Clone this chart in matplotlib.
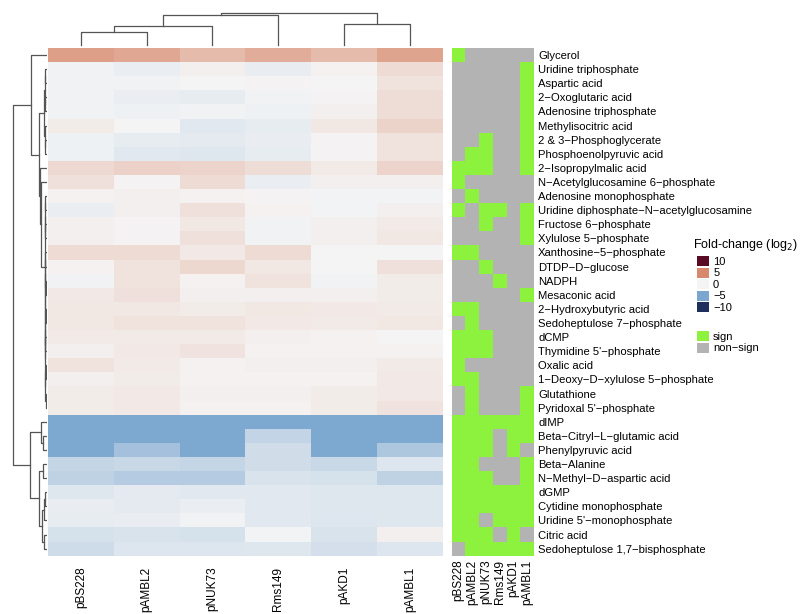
import matplotlib
matplotlib.use("Agg")
import matplotlib.pyplot as plt
import numpy as np
from matplotlib.colors import LinearSegmentedColormap, ListedColormap, Normalize
from matplotlib.patches import Patch

plt.rcParams["font.family"] = ["Liberation Sans", "DejaVu Sans"]

strains = ["pBS228", "pAMBL2", "pNUK73", "Rms149", "pAKD1", "pAMBL1"]

metabolites = [
    "Glycerol", "Uridine triphosphate", "Aspartic acid", "2−Oxoglutaric acid",
    "Adenosine triphosphate", "Methylisocitric acid", "2 & 3−Phosphoglycerate",
    "Phosphoenolpyruvic acid", "2−Isopropylmalic acid",
    "N−Acetylglucosamine 6−phosphate", "Adenosine monophosphate",
    "Uridine diphosphate−N−acetylglucosamine", "Fructose 6−phosphate",
    "Xylulose 5−phosphate", "Xanthosine−5−phosphate", "DTDP−D−glucose", "NADPH",
    "Mesaconic acid", "2−Hydroxybutyric acid", "Sedoheptulose 7−phosphate", "dCMP",
    "Thymidine 5'−phosphate", "Oxalic acid", "1−Deoxy−D−xylulose 5−phosphate",
    "Glutathione", "Pyridoxal 5'−phosphate", "dIMP", "Beta−Citryl−L−glutamic acid",
    "Phenylpyruvic acid", "Beta−Alanine", "N−Methyl−D−aspartic acid", "dGMP",
    "Cytidine monophosphate", "Uridine 5'−monophosphate", "Citric acid",
    "Sedoheptulose 1,7−bisphosphate",
]

# log2 fold-change, columns in strain order
fold_change = np.array([
    [4.0, 3.6, 2.7, 3.4, 2.7, 3.8],
    [-0.2, -0.4, 0.3, -0.5, 0.2, 1.2],
    [-0.2, -0.2, 0.0, 0.1, 0.05, 0.9],
    [-0.2, -0.4, -0.6, -0.2, 0.1, 1.1],
    [-0.2, -0.3, -0.2, -0.3, 0.3, 1.1],
    [0.4, 0.0, -0.8, -0.6, 0.7, 1.6],
    [-0.3, -0.6, -0.7, -0.5, 0.1, 0.9],
    [-0.3, -0.8, -0.9, -0.6, 0.1, 0.9],
    [1.3, 1.7, 1.5, 1.1, 0.5, 1.5],
    [1.0, 0.1, 1.2, -0.4, 0.3, 0.3],
    [0.2, 0.3, 0.2, 0.1, -0.1, -0.1],
    [-0.4, 0.3, 1.0, 0.2, -0.1, 0.3],
    [0.3, 0.1, 0.7, -0.2, 0.3, 0.5],
    [0.3, 0.1, 1.0, -0.2, 0.3, 0.7],
    [1.2, 1.2, 0.6, 1.2, 0.0, 0.0],
    [0.2, 0.9, 1.4, 0.7, 0.0, 1.0],
    [-0.2, 0.9, 0.2, 0.9, -0.2, 0.4],
    [0.6, 1.0, 0.3, 0.3, 0.3, 0.4],
    [0.7, 0.7, 0.4, 0.7, 0.6, 0.5],
    [0.7, 0.9, 0.9, 0.6, 0.5, 0.7],
    [0.5, 0.5, 0.5, 0.3, 0.2, 0.05],
    [0.3, 0.6, 0.8, 0.2, 0.2, 0.2],
    [0.9, 0.5, 0.2, 0.3, 0.3, 0.5],
    [0.3, 0.4, 0.2, 0.2, 0.2, 0.6],
    [0.4, 0.6, 0.3, 0.3, 0.4, 0.6],
    [0.4, 0.6, 0.2, 0.2, 0.4, 0.8],
    [-4.9, -4.9, -4.9, -4.9, -4.9, -4.9],
    [-4.9, -4.9, -4.9, -2.1, -4.9, -4.9],
    [-4.9, -3.3, -4.9, -1.5, -4.9, -2.9],
    [-2.0, -1.8, -2.0, -1.5, -1.8, -1.0],
    [-2.2, -2.6, -2.6, -1.1, -1.3, -2.2],
    [-0.9, -0.7, -0.8, -0.8, -0.9, -0.9],
    [-0.5, -0.7, -0.4, -0.8, -0.9, -0.9],
    [-0.6, -0.5, -0.2, -0.8, -1.0, -0.9],
    [-1.3, -1.1, -1.3, -0.1, -1.1, 0.3],
    [-1.6, -1.0, -1.0, -0.9, -1.4, -1.0],
])

# 1 = significant, 0 = not significant
significant = np.array([
    [1, 0, 0, 0, 0, 0],
    [0, 0, 0, 0, 0, 1],
    [0, 0, 0, 0, 0, 1],
    [0, 0, 0, 0, 0, 1],
    [0, 0, 0, 0, 0, 1],
    [0, 0, 0, 0, 0, 1],
    [0, 0, 1, 0, 0, 1],
    [0, 1, 1, 0, 0, 1],
    [1, 1, 1, 0, 0, 1],
    [1, 0, 0, 0, 0, 0],
    [0, 1, 0, 0, 0, 0],
    [1, 0, 1, 1, 0, 1],
    [0, 0, 1, 0, 0, 1],
    [0, 0, 0, 0, 0, 1],
    [1, 1, 0, 0, 0, 0],
    [0, 0, 1, 0, 0, 0],
    [0, 0, 0, 1, 0, 0],
    [0, 0, 0, 0, 0, 1],
    [1, 1, 0, 0, 0, 0],
    [0, 1, 0, 0, 0, 0],
    [1, 1, 1, 0, 0, 0],
    [1, 1, 1, 0, 0, 0],
    [1, 0, 0, 0, 0, 0],
    [1, 1, 0, 0, 0, 0],
    [0, 1, 0, 0, 0, 1],
    [0, 1, 0, 0, 0, 1],
    [1, 1, 1, 1, 1, 1],
    [1, 1, 1, 0, 1, 1],
    [1, 1, 1, 0, 1, 0],
    [1, 1, 0, 0, 0, 1],
    [1, 1, 1, 0, 0, 1],
    [1, 1, 1, 1, 1, 1],
    [1, 1, 1, 1, 1, 1],
    [1, 1, 0, 1, 1, 1],
    [1, 1, 1, 0, 1, 0],
    [0, 1, 1, 1, 1, 1],
])

# dendrograms as (height, left, right); ints are leaf indices
col_tree = (32, (29.7, (18.7, (13.3, 0, 1), 2), 3), (21.3, 4, 5))
row_tree = (33,
            (15.3, 0,
             (7.5,
              (2.5, (1.5, (0.8, 1, 2), (1.0, 3, 4)), (1.2, 5, (0.6, 6, 7))),
              (6.5, 8,
               (5.5, 9,
                (1.5, (1.2, (0.8, 10, 11), (0.6, 12, 13)),
                 (1.3, (1.0, (0.7, 14, 15), (0.5, 16, 17)),
                  (1.1, (0.8, (0.5, 18, 19), (0.6, 20, 21)),
                   (0.9, (0.5, 22, 23), (0.4, 24, 25))))))))),
            (16, (5.5, 26, (3, 27, 28)),
             (7.5, (3, 29, 30), (4, (2, (1, 31, 32), 33), (2.5, 34, 35)))))

cmap = LinearSegmentedColormap.from_list(
    "fc", [(0.0, "#1e2f5e"), (0.25, "#7ba6cf"), (0.5, "#f5f5f5"),
           (0.75, "#d88a6e"), (1.0, "#5a0a24")])
norm = Normalize(-10, 10)
sig_green, sig_grey = "#8cf23d", "#b3b3b3"
line_col = "#555555"

W, H = 800, 614
fig = plt.figure(figsize=(8, 6.14), dpi=100)


def frac(x0, y0, x1, y1):
    return [x0 / W, 1 - y1 / H, (x1 - x0) / W, (y1 - y0) / H]


hm_top, hm_bot = 48, 555.7
ax_hm = fig.add_axes(frac(48, hm_top, 442.7, hm_bot))
ax_sig = fig.add_axes(frac(451.7, hm_top, 534, hm_bot))
ax_top = fig.add_axes(frac(48, 5, 442.7, 47))
ax_left = fig.add_axes(frac(5, hm_top, 47, hm_bot))

n_rows, n_cols = fold_change.shape
ax_hm.pcolormesh(fold_change, cmap=cmap, norm=norm)
ax_hm.set_xlim(0, n_cols)
ax_hm.set_ylim(n_rows, 0)
ax_hm.set_xticks(np.arange(n_cols) + 0.5)
ax_hm.set_xticklabels(strains, rotation=90, fontsize=8.5)
ax_hm.set_yticks([])
ax_hm.tick_params(axis="x", length=0, pad=8)

ax_sig.pcolormesh(significant, cmap=ListedColormap([sig_grey, sig_green]),
                  vmin=0, vmax=1)
ax_sig.set_xlim(0, n_cols)
ax_sig.set_ylim(n_rows, 0)
ax_sig.set_xticks(np.arange(n_cols) + 0.5)
ax_sig.set_xticklabels(strains, rotation=90, fontsize=8.5)
ax_sig.set_yticks(np.arange(n_rows) + 0.5)
ax_sig.set_yticklabels(metabolites, fontsize=8.1)
ax_sig.yaxis.tick_right()
ax_sig.tick_params(axis="both", length=0, pad=3)

for a in (ax_hm, ax_sig, ax_top, ax_left):
    for s in a.spines.values():
        s.set_visible(False)


def draw_tree(ax, node, vertical):
    if isinstance(node, int):
        return node + 0.5, 0.0
    h, left, right = node
    pl, hl = draw_tree(ax, left, vertical)
    pr, hr = draw_tree(ax, right, vertical)
    pos, hts = [pl, pl, pr, pr], [hl, h, h, hr]
    if vertical:
        ax.plot(pos, hts, color=line_col, lw=0.9)
    else:
        ax.plot(hts, pos, color=line_col, lw=0.9)
    return (pl + pr) / 2, h


draw_tree(ax_top, col_tree, True)
ax_top.set_xlim(0, n_cols)
ax_top.set_ylim(-2, 40)
ax_top.axis("off")

draw_tree(ax_left, row_tree, False)
ax_left.set_ylim(n_rows, 0)
ax_left.set_xlim(41, -1)
ax_left.axis("off")

# legends
fig.text(693 / W, 1 - 245 / H, "Fold-change (log$_2$)", fontsize=9, va="center")
fc_vals = [10, 5, 0, -5, -10]
fc_handles = [Patch(facecolor=cmap(norm(v)), edgecolor="none") for v in fc_vals]
legend_kw = dict(loc="upper left", frameon=False, fontsize=8, handlelength=1.05,
                 handleheight=1.05, labelspacing=0.05, handletextpad=0.4,
                 borderpad=0, borderaxespad=0)
fig.legend(fc_handles, [str(v).replace("-", "−") for v in fc_vals],
           bbox_to_anchor=(697 / W, 1 - 256 / H), **legend_kw)
sig_handles = [Patch(facecolor=sig_green, edgecolor="none"),
               Patch(facecolor=sig_grey, edgecolor="none")]
fig.legend(sig_handles, ["sign", "non−sign"],
           bbox_to_anchor=(697 / W, 1 - 331 / H), **legend_kw)

fig.savefig("out.png", dpi=100)
